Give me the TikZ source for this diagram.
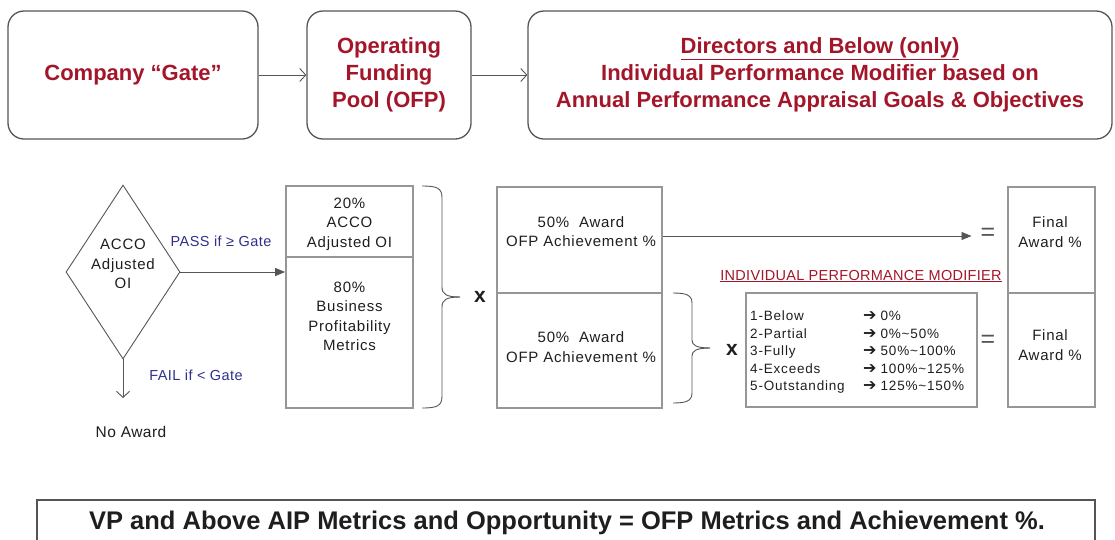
\documentclass[tikz,border=0pt]{standalone}
\usepackage{fontspec}
\setmainfont{Liberation Sans}
\newfontfamily\symfont{DejaVu Sans}
\usetikzlibrary{arrows.meta,shapes.geometric}
\definecolor{dred}{RGB}{163,22,42}
\definecolor{navy}{RGB}{48,48,140}
\definecolor{boxgray}{RGB}{150,150,150}
\definecolor{edgegray}{RGB}{85,85,85}
\definecolor{ink}{RGB}{30,30,30}
\newcommand{\spaced}[1]{\addfontfeature{LetterSpace=#1}}
\newcommand{\heavyarrow}{{\symfont\fontsize{16}{17.5}\selectfont ➔}\hspace{4pt}}
\begin{document}
\begin{tikzpicture}[x=1pt,y=-1pt,
  stage/.style={draw=edgegray, line width=1.3pt, rounded corners=16pt, inner sep=0pt,
    text=dred, align=center, font=\fontsize{22}{27}\selectfont\bfseries},
  cell/.style={draw=boxgray, line width=1.8pt, inner sep=0pt},
  celltext/.style={text=ink, align=center, font=\fontsize{15}{19.5}\selectfont\spaced{5}},
  flow/.style={draw=edgegray, line width=0.9pt, -{Straight Barb[length=6pt,width=13pt,line width=0.9pt]}},
  solidarrow/.style={draw=edgegray, line width=0.9pt, -{Triangle[length=10pt,width=8pt]}},
  bluelabel/.style={text=navy, font=\fontsize{14.5}{17}\selectfont\spaced{3}},
  times/.style={text=ink, font=\fontsize{21}{24}\selectfont\bfseries, inner sep=1pt},
  equals/.style={text=edgegray, font=\fontsize{25}{26}\selectfont, inner sep=1pt},
  bracepath/.style={draw=edgegray, line width=0.9pt}
]
\useasboundingbox (0,0) rectangle (1115,539);
\clip (0,0) rectangle (1115,539);

% ---- top row: gate -> funding pool -> modifier ----
\node[stage, minimum width=250, minimum height=128] (gate) at (133,75) {Company “Gate”};
\node[stage, minimum width=164, minimum height=128] (ofp) at (389,75) {Operating\\Funding\\Pool (OFP)};
\node[stage, minimum width=584, minimum height=128] (dir) at (820,75)
  {\underline{Directors and Below (only)}\\Individual Performance Modifier based on\\Annual Performance Appraisal Goals \& Objectives};
\draw[flow] (gate) -- (ofp);
\draw[flow] (ofp) -- (dir);

% ---- gate decision ----
\node[diamond, draw=edgegray, line width=0.9pt, inner sep=0pt, minimum width=114, minimum height=174] (acco) at (123,272) {};
\node[celltext] (accot) at (123,264) {ACCO\\Adjusted\\OI};
\node[bluelabel] (pass) at (221,241) {PASS if ≥ Gate};
\node[bluelabel] (fail) at (196,375) {FAIL if < Gate};
\coordinate (failend) at (123,398);
\node[text=ink, font=\fontsize{15.5}{18}\selectfont\spaced{3}] (noaward) at (131,432) {No Award};
\draw[flow] (acco.south) -- (failend);

% ---- OFP metrics ----
\node[cell, line width=2.6pt, minimum width=127, minimum height=71] (ai) at (349.5,221.5) {};
\node[celltext] (ait) at (349.5,224) {20\%\\ACCO\\Adjusted OI};
\node[cell, minimum width=127, minimum height=151] (bp) at (349.5,332.5) {};
\node[celltext] (bpt) at (349.5,316.5) {80\%\\Business\\Profitability\\Metrics};
\draw[solidarrow] (acco.east) -- (acco.east -| bp.west);

% brace around the metrics
\draw[bracepath] (422,186) .. controls (437,186) and (442,188) .. (442,198) -- (442,287)
  .. controls (442,294) and (446,297) .. (460,297);
\draw[bracepath] (422,408) .. controls (437,408) and (442,406) .. (442,396) -- (442,307)
  .. controls (442,300) and (446,297) .. (460,297);
\node[times] (x1) at (480,297) {x};

% ---- award split ----
\node[cell, minimum width=165, minimum height=106] (m1) at (579.5,240) {};
\node[celltext] (m1t) at (581,231.5) {50\%\ \ Award\\OFP Achievement \%};
\node[cell, minimum width=165, minimum height=115] (m2) at (579.5,350.5) {};
\node[celltext] (m2t) at (581,347) {50\%\ \ Award\\OFP Achievement \%};

% brace around the second half
\draw[bracepath] (673,293) .. controls (686,293) and (692,295) .. (692,303) -- (692,340)
  .. controls (692,345) and (696,348) .. (710,348);
\draw[bracepath] (673,403) .. controls (686,403) and (692,401) .. (692,393) -- (692,356)
  .. controls (692,351) and (696,348) .. (710,348);
\node[times] (x2) at (732,350) {x};

% ---- individual performance modifier ----
\node[text=dred, font=\fontsize{14.5}{16}\selectfont\spaced{2}] (ipmtitle) at (861,276) {\underline{INDIVIDUAL PERFORMANCE MODIFIER}};
\node[draw=boxgray, line width=1.8pt, inner sep=0pt, minimum width=231, minimum height=114] (ipm) at (861.5,350) {};
\node[anchor=west, inner sep=0pt, text=ink, font=\fontsize{13.5}{17.5}\selectfont\spaced{6}] (ipmt) at (750,352)
  {\begin{tabular}{@{}p{113pt}@{}l@{}}
   1-Below & \heavyarrow 0\% \\
   2-Partial & \heavyarrow 0\%\textasciitilde 50\% \\
   3-Fully & \heavyarrow 50\%\textasciitilde 100\% \\
   4-Exceeds & \heavyarrow 100\%\textasciitilde 125\% \\
   5-Outstanding & \heavyarrow 125\%\textasciitilde 150\%
   \end{tabular}};

% ---- final award ----
\node[equals] (eq1) at (988,234) {=};
\node[equals] (eq2) at (988,341) {=};
\node[cell, minimum width=87, minimum height=106] (f1) at (1051.5,240) {};
\node[celltext] (f1t) at (1050,232) {Final\\Award \%};
\node[cell, minimum width=87, minimum height=114] (f2) at (1051.5,350) {};
\node[celltext] (f2t) at (1050,345) {Final\\Award \%};
\draw[solidarrow, shorten >=8pt] ([yshift=4pt]m1.east) -- ([yshift=4pt]m1.east -| eq1.west);

% ---- executive note ----
\node[draw=edgegray, line width=1.3pt, minimum width=1058, minimum height=60, inner sep=0pt] (vp) at (566,530) {};
\node[text=ink, font=\fontsize{25.5}{28}\selectfont\bfseries] (vpt) at (567,523)
  {VP and Above AIP Metrics and Opportunity = OFP Metrics and Achievement \%.};
\end{tikzpicture}
\end{document}
